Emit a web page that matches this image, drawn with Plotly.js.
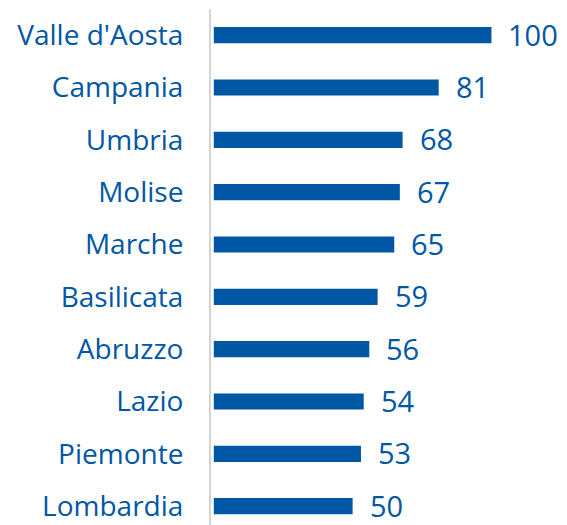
<!DOCTYPE html>
<html>
<head>
<meta charset="utf-8">
<script src="https://cdn.plot.ly/plotly-3.0.1.min.js"></script>
<style>html,body{margin:0;padding:0;background:#fff;}#chart{width:567px;height:525px;}</style>
</head>
<body>
<div id="chart"></div>
<script>
const regions = ["Valle d'Aosta", "Campania", "Umbria", "Molise", "Marche", "Basilicata", "Abruzzo", "Lazio", "Piemonte", "Lombardia"];
const values = [100, 81, 68, 67, 65, 59, 56, 54, 53, 50];

const blue = '#0057A4';
const fontFam = '"Open Sans", "Liberation Sans", Arial, sans-serif';

const trace = {
  type: 'bar',
  orientation: 'h',
  x: values,
  y: regions,
  marker: {color: blue},
  width: 0.31,
  hoverinfo: 'none'
};

const annotations = regions.map((r, i) => ({
  x: values[i], y: r, xref: 'x', yref: 'y',
  text: String(values[i]), showarrow: false,
  xanchor: 'left', yanchor: 'middle', xshift: 15, yshift: 1,
  font: {family: fontFam, size: 29, color: blue}
}));

const layout = {
  width: 567, height: 525,
  margin: {l: 211, r: 20, t: 9, b: 0},
  paper_bgcolor: '#fff', plot_bgcolor: '#fff',
  showlegend: false,
  xaxis: {range: [-1, 120], showgrid: false, zeroline: false, showticklabels: false, showline: false, fixedrange: true},
  yaxis: {
    type: 'category', categoryorder: 'array', categoryarray: regions,
    range: [9.36, -0.5],
    showgrid: false, zeroline: false, showline: true, linecolor: '#d4d4d4', linewidth: 2,
    ticks: '', ticklabelstandoff: 20,
    tickfont: {family: fontFam, size: 28, color: blue}, fixedrange: true
  },
  annotations: annotations
};

Plotly.newPlot('chart', [trace], layout, {displayModeBar: false, staticPlot: true});
</script>
</body>
</html>
